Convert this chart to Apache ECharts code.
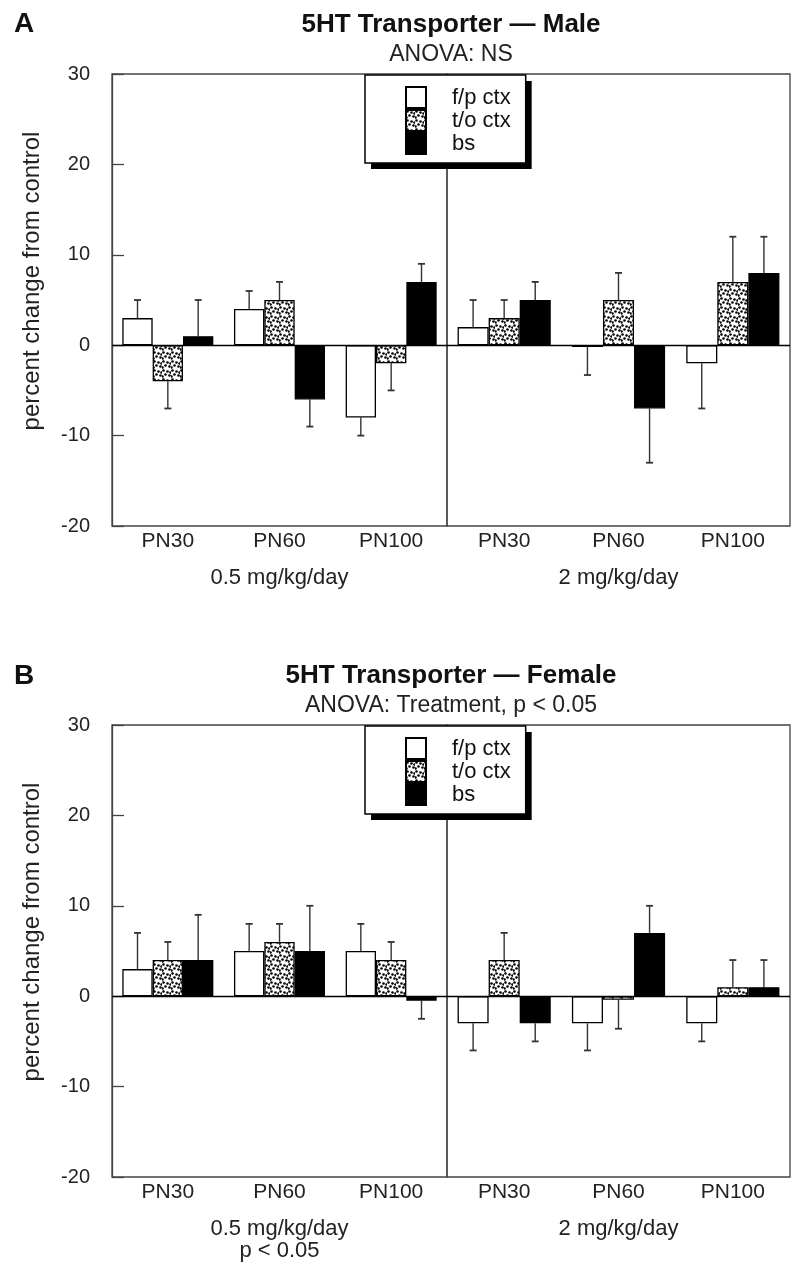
<!DOCTYPE html>
<html>
<head>
<meta charset="utf-8">
<script src="https://cdn.jsdelivr.net/npm/echarts@6/dist/echarts.min.js"></script>
<style>html,body{margin:0;padding:0;background:#fff}#c{width:800px;height:1269px}</style>
</head>
<body>
<div id="c"></div>
<script>
// ---- data ----
const categories = ['PN30', 'PN60', 'PN100'];
const regions = ['f/p ctx', 't/o ctx', 'bs'];
const yTicks = [-20, -10, 0, 10, 20, 30];

// Male, 0.5 mg/kg/day
const maleLowFp = [3, 4, -8];
const maleLowTo = [-4, 5, -2];
const maleLowBs = [1, -6, 7];
const maleLowFpErr = [2, 2, 2];
const maleLowToErr = [3, 2, 3];
const maleLowBsErr = [4, 3, 2];
// Male, 2 mg/kg/day
const maleHighFp = [2, -0.2, -2];
const maleHighTo = [3, 5, 7];
const maleHighBs = [5, -7, 8];
const maleHighFpErr = [3, 3.1, 5];
const maleHighToErr = [2, 3, 5];
const maleHighBsErr = [2, 6, 4];
// Female, 0.5 mg/kg/day
const femLowFp = [3, 5, 5];
const femLowTo = [4, 6, 4];
const femLowBs = [4, 5, -0.5];
const femLowFpErr = [4, 3, 3];
const femLowToErr = [2, 2, 2];
const femLowBsErr = [5, 5, 2];
// Female, 2 mg/kg/day
const femHighFp = [-3, -3, -3];
const femHighTo = [4, -0.4, 1];
const femHighBs = [-3, 7, 1];
const femHighFpErr = [3, 3, 2];
const femHighToErr = [3, 3.2, 3];
const femHighBsErr = [2, 3, 3];

// ---- dotted pattern ----
const pat = document.createElement('canvas');
pat.width = 9; pat.height = 9;
const pc = pat.getContext('2d');
pc.fillStyle = '#fff'; pc.fillRect(0, 0, 9, 9);
pc.fillStyle = '#000';
[[1,1],[5,2],[3,5],[7,6],[0,7],[8,3]].forEach(p => { pc.beginPath(); pc.arc(p[0]+0.5, p[1]+0.5, 1.3, 0, Math.PI*2); pc.fill(); });

const fills = ['#ffffff', {image: pat, repeat: 'repeat'}, '#000000'];
const CAT_GAP = 0.185;
const FONT = 'Liberation Sans, Arial, Helvetica, sans-serif';

const chart = echarts.init(document.getElementById('c'));

const grids = [
  {left: 112, width: 335, top: 74, height: 452},
  {left: 447, width: 343, top: 74, height: 452},
  {left: 112, width: 335, top: 725, height: 452},
  {left: 447, width: 343, top: 725, height: 452}
];
const panelData = [
  {vals: [maleLowFp, maleLowTo, maleLowBs], errs: [maleLowFpErr, maleLowToErr, maleLowBsErr], name: '0.5 mg/kg/day'},
  {vals: [maleHighFp, maleHighTo, maleHighBs], errs: [maleHighFpErr, maleHighToErr, maleHighBsErr], name: '2 mg/kg/day'},
  {vals: [femLowFp, femLowTo, femLowBs], errs: [femLowFpErr, femLowToErr, femLowBsErr], name: '0.5 mg/kg/day\np < 0.05'},
  {vals: [femHighFp, femHighTo, femHighBs], errs: [femHighFpErr, femHighToErr, femHighBsErr], name: '2 mg/kg/day'}
];

function errRender(sIdx) {
  return function (params, api) {
    const ci = api.value(0), v = api.value(1), e = api.value(2);
    const catW = api.size([1, 0])[0];
    const barW = catW * (1 - CAT_GAP) / 3;
    const p0 = api.coord([ci, v]);
    const x = p0[0] + (sIdx - 1) * barW;
    const end = v >= 0 ? v + e : v - e;
    const y1 = api.coord([ci, end])[1];
    return {type: 'group', children: [
      {type: 'line', shape: {x1: x, y1: p0[1], x2: x, y2: y1}, style: {stroke: '#333', lineWidth: 1.4}},
      {type: 'line', shape: {x1: x - 3.5, y1: y1, x2: x + 3.5, y2: y1}, style: {stroke: '#333', lineWidth: 1.8}}
    ]};
  };
}

const xAxis = [], yAxis = [], series = [];
grids.forEach((g, gi) => {
  xAxis.push({
    type: 'category', gridIndex: gi, data: categories,
    axisLine: {show: false, onZero: false}, axisTick: {show: false},
    axisLabel: {fontSize: 21, color: '#222', margin: 5, fontFamily: FONT},
    name: panelData[gi].name, nameLocation: 'middle', nameGap: 41,
    nameTextStyle: {fontSize: 22, color: '#222', fontFamily: FONT, lineHeight: 22}
  });
  const isLeft = gi % 2 === 0;
  yAxis.push({
    type: 'value', gridIndex: gi, min: -20, max: 30, interval: 10,
    splitLine: {show: false},
    axisLine: {show: isLeft, lineStyle: {color: '#444', width: 1.3}},
    axisTick: {show: isLeft, inside: true, length: 12, lineStyle: {color: '#444', width: 1.3}},
    axisLabel: {show: isLeft, fontSize: 20, color: '#222', margin: 22, fontFamily: FONT,
      formatter: v => yTicks.indexOf(v) >= 0 ? String(v) : ''},
    name: isLeft ? 'percent change from control' : '', nameLocation: 'middle', nameGap: 68,
    nameTextStyle: {fontSize: 24, color: '#222', fontFamily: FONT, padding: [0, 0, 0, 38]}
  });
  regions.forEach((r, si) => {
    const s = {
      type: 'bar', name: r, xAxisIndex: gi, yAxisIndex: gi,
      data: panelData[gi].vals[si],
      barGap: '0%', barCategoryGap: (CAT_GAP * 100) + '%',
      itemStyle: {color: fills[si], borderColor: '#000', borderWidth: 1.3},
      emphasis: {disabled: true}, z: 3
    };
    if (si === 0) {
      s.markLine = {silent: true, symbol: 'none', label: {show: false},
        lineStyle: {color: '#000', type: 'solid', width: 1.4}, data: [{yAxis: 0}], animation: false};
    }
    series.push(s);
  });
  regions.forEach((r, si) => {
    series.push({
      type: 'custom', name: 'err', xAxisIndex: gi, yAxisIndex: gi, z: 2,
      renderItem: errRender(si),
      encode: {x: 0, y: 1},
      data: panelData[gi].vals[si].map((v, i) => [i, v, panelData[gi].errs[si][i]])
    });
  });
});

function legendAt(left, top, shadow) {
  return {
    data: regions, orient: 'vertical', left: left, top: top,
    itemWidth: 20, itemHeight: 21, itemGap: 0,
    padding: [11, 15, 8, 40],
    z: shadow ? 6 : 8,
    backgroundColor: shadow ? '#000' : '#fff',
    borderColor: '#000', borderWidth: shadow ? 0 : 1.5,
    textStyle: {fontSize: 22, lineHeight: 21, color: shadow ? '#000' : '#111', fontFamily: FONT, padding: [0, 0, 0, 21]},
    selectedMode: false, icon: 'rect'
  };
}

const option = {
  animation: false,
  backgroundColor: '#fff',
  title: [
    {text: 'A', left: 9, top: 5, textStyle: {fontSize: 28, fontWeight: 'bold', color: '#111', fontFamily: FONT}},
    {text: '5HT Transporter — Male', left: 446, top: 7, textAlign: 'center', textStyle: {fontSize: 26, fontWeight: 'bold', color: '#111', fontFamily: FONT}},
    {text: 'ANOVA: NS', left: 446, top: 38, textAlign: 'center', textStyle: {fontSize: 23, fontWeight: 'normal', color: '#222', fontFamily: FONT}},
    {text: 'B', left: 9, top: 657, textStyle: {fontSize: 28, fontWeight: 'bold', color: '#111', fontFamily: FONT}},
    {text: '5HT Transporter — Female', left: 446, top: 658, textAlign: 'center', textStyle: {fontSize: 26, fontWeight: 'bold', color: '#111', fontFamily: FONT}},
    {text: 'ANOVA: Treatment, p < 0.05', left: 446, top: 689, textAlign: 'center', textStyle: {fontSize: 23, fontWeight: 'normal', color: '#222', fontFamily: FONT}}
  ],
  legend: [legendAt(371, 81, true), legendAt(365, 75, false), legendAt(371, 732, true), legendAt(365, 726, false)],
  grid: grids.map(g => Object.assign({show: true, borderColor: '#444', borderWidth: 1.3, backgroundColor: 'transparent', containLabel: false}, g)),
  xAxis: xAxis,
  yAxis: yAxis,
  series: series
};
chart.setOption(option);
</script>
</body>
</html>
